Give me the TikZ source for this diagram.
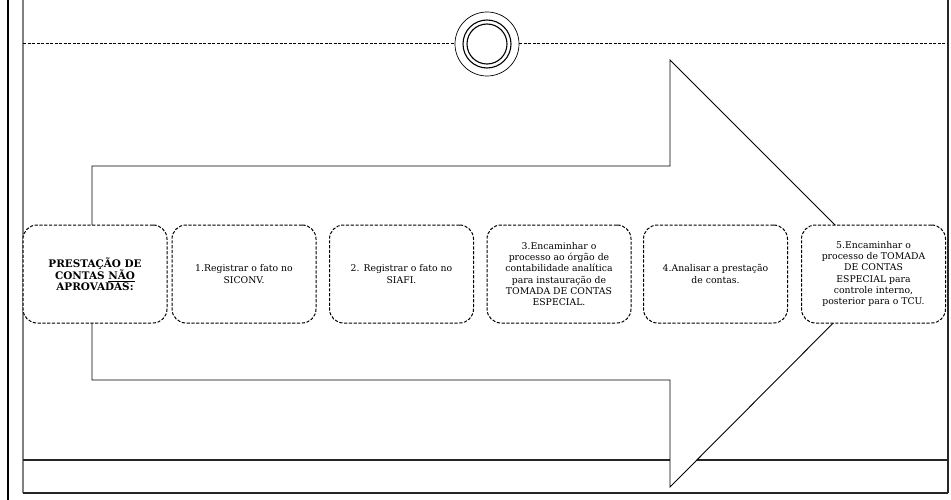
\documentclass[tikz,border=0pt]{standalone}
\usepackage{fontspec}
\setmainfont{DejaVu Serif}
\tikzset{
  stepbox/.style={
    draw, dash pattern=on 3.2pt off 1.6pt, line width=1pt,
    rounded corners=14pt, fill=white,
    minimum width=144pt, minimum height=98pt,
    inner sep=2pt, align=center,
    font=\fontsize{9.3}{11.2}\selectfont
  },
  titlebox/.style={stepbox, font=\fontsize{10.4}{10.6}\selectfont\bfseries},
  frameline/.style={line width=1.1pt, black!85},
  dashline/.style={dash pattern=on 3pt off 1.5pt, line width=1pt},
}

\begin{document}
\begin{tikzpicture}[x=1pt,y=-1pt]
  \useasboundingbox (0,0) rectangle (951,500);
  % frame
  \draw[line width=2.4pt] (8,0) -- (8,500);
  \draw[line width=1.2pt,gray] (23,0) -- (23,493);
  \draw[frameline] (948,0) -- (948,493);
  \draw[frameline] (23,460) -- (948,460) (23,493) -- (948,493);
  % ring on the dashed line
  \node[circle,draw,fill=white,minimum size=64pt,inner sep=0pt,line width=0.7pt] (ring) at (487,44) {};
  \draw[line width=1.1pt] (ring.center) circle[radius=24pt] circle[radius=20pt];
  \draw[dashline] (23,44) -- (ring.west) (ring.east) -- (948,44);
  % big arrow
  \draw[fill=white,line width=0.9pt] (92,166) -- (670,166) -- (670,60) -- (883,273)
    -- (670,487) -- (670,380) -- (92,380) -- cycle;
  % steps
  \node[titlebox] (b0) at (95,274) {PRESTAÇÃO DE\\CONTAS \underline{NÃO}\\APROVADAS:};
  \node[stepbox] (b1) at (244,274) {1.Registrar o fato no\\SICONV.};
  \node[stepbox] (b2) at (401.5,274) {2. Registrar o fato no\\SIAFI.};
  \node[stepbox] (b3) at (559,274) {3.Encaminhar o\\processo ao órgão de\\contabilidade analítica\\para instauração de\\TOMADA DE CONTAS\\ESPECIAL.};
  \node[stepbox] (b4) at (715.5,274) {4.Analisar a prestação\\de contas.};
  \node[stepbox] (b5) at (873.5,274) {5.Encaminhar o\\processo de TOMADA\\DE CONTAS\\ESPECIAL para\\controle interno,\\posterior para o TCU.};
\end{tikzpicture}
\end{document}
